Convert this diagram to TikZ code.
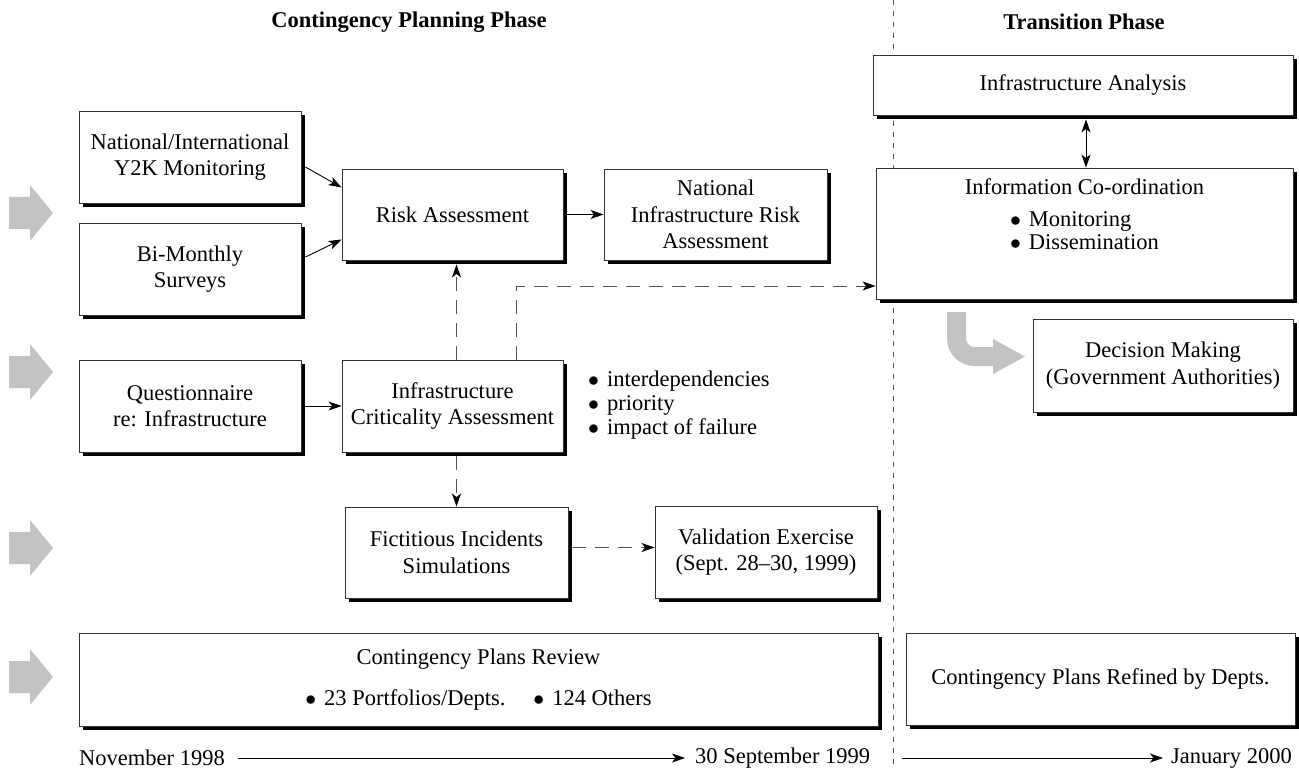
\documentclass[tikz,border=0pt]{standalone}
\usepackage{fontspec}
\setmainfont{Liberation Serif}
\usepackage{graphicx}
\usepackage{xcolor}
\definecolor{arrowgray}{RGB}{195,195,195}
\definecolor{linegray}{RGB}{85,85,85}
\usetikzlibrary{arrows.meta,shadows,calc}
\newcommand{\pt}{\scalebox{1.05}{$\bullet$}\hspace{8pt}}
\tikzset{
  phasebox/.style={
    draw=black!80,
    line width=0.9pt,
    fill=white,
    inner sep=0pt,
    align=center,
    drop shadow={shadow xshift=4pt, shadow yshift=-4pt, fill=black, opacity=1}
  },
  stdbox/.style={
    phasebox,
    minimum width=222pt,
    minimum height=92pt
  },
  flow/.style={
    line width=0.9pt,
    -{Stealth[length=13pt, width=9pt, inset=3.5pt]}
  },
  dashflow/.style={
    flow,
    draw=linegray,
    -{Stealth[length=13pt, width=9pt, inset=3.5pt, color=black]},
    dash pattern=on 14pt off 9pt
  },
  twoway/.style={
    line width=0.9pt,
    {Stealth[length=13pt, width=9pt, inset=3.5pt]}-{Stealth[length=13pt, width=9pt, inset=3.5pt]}
  },
  divider/.style={
    draw=linegray,
    line width=0.8pt,
    dash pattern=on 5pt off 6pt
  },
  blockarrow/.style={
    fill=arrowgray
  },
  turnarrow/.style={
    draw=arrowgray,
    line width=19pt,
    rounded corners=18pt
  },
  heading/.style={
    font=\fontsize{22.5}{26.5}\selectfont\bfseries
  },
}

\begin{document}
\begin{tikzpicture}[x=1pt, y=-1pt, font=\fontsize{22.5}{26.5}\selectfont]

  \useasboundingbox (0,0) rectangle (1299,770);

  \def\XDIV{893}

  % phase divider
  \draw[divider] (\XDIV,0) -- (\XDIV,770);

  % headings
  \node[heading] (planhead) at (409,22) {Contingency Planning Phase};
  \node[heading] (transhead) at (1084,22) {Transition Phase};

  % gray row arrows
  \foreach \y in {213,372,548,677}
    \fill[blockarrow] (9,\y-16) -- (30,\y-16) -- (30,\y-28) -- (53,\y)
      -- (30,\y+28) -- (30,\y+16) -- (9,\y+16) -- cycle;

  % planning boxes
  \node[stdbox] (natmon) at (190,157) {National/International\\Y2K Monitoring};
  \node[stdbox] (survey) at (190,269) {Bi-Monthly\\Surveys};
  \node[stdbox, minimum width=221pt, minimum height=91pt] (risk) at (452.5,214.5) {Risk Assessment};
  \node[stdbox, minimum width=223pt, minimum height=91pt] (nira) at (715.5,214.5) {National\\Infrastructure Risk\\Assessment};
  \node[stdbox] (quest) at (190,406) {Questionnaire\\re: Infrastructure};
  \node[stdbox, minimum width=221pt] (ica) at (452.5,406) {Infrastructure\\Criticality Assessment};
  \node[anchor=west, inner sep=0pt, align=left, font=\fontsize{22.5}{24}\selectfont] (criteria) at (588,405)
    {\pt interdependencies\\\pt priority\\\pt impact of failure};
  \node[stdbox, minimum width=223pt, minimum height=91pt] (fict) at (456.5,552.5) {Fictitious Incidents\\Simulations};
  \node[stdbox] (valid) at (766,552) {Validation Exercise\\(Sept. 28--30, 1999)};
  \node[phasebox, minimum width=799pt, minimum height=93pt] (review) at (478.5,679.5)
    {Contingency Plans Review\\[14pt]\pt 23 Portfolios/Depts.\hspace{28pt}\pt 124 Others};

  % transition boxes
  \node[phasebox, minimum width=420pt, minimum height=60pt] (infan) at (1083,85) {Infrastructure Analysis};
  \node[phasebox, minimum width=417pt, minimum height=131pt] (infoco) at (1084.5,233.5) {};
  \node[anchor=north, inner sep=0pt, align=center] (infotext) at ([yshift=-11pt]infoco.north)
    {Information Co-ordination\\[5pt]\begin{tabular}[t]{@{}l@{}}\pt Monitoring\\[-3.5pt]\pt Dissemination\end{tabular}};
  \node[phasebox, minimum width=260pt, minimum height=93pt] (decide) at (1163,365.5) {Decision Making\\(Government Authorities)};
  \node[phasebox, minimum width=389pt, minimum height=92pt] (refined) at (1100.5,679) {Contingency Plans Refined by Depts.};

  % turn arrow to decision making
  \draw[turnarrow] (956.5,312) -- (956.5,356.5) -- (995,356.5);
  \fill[blockarrow] (993,339) -- (1025,356.5) -- (993,374) -- cycle;

  % connectors
  \draw[flow] ([xshift=4pt, yshift=-10pt]natmon.east) -- ([yshift=27pt]risk.west);
  \draw[flow] ([xshift=4pt, yshift=12pt]survey.east) -- ([yshift=-25pt]risk.west);
  \draw[flow] ([xshift=4pt]risk.east) -- (nira.west);
  \draw[flow] ([xshift=4pt]quest.east) -- (ica.west);
  \draw[dashflow] (ica.north -| fict.north) -- ([yshift=-4pt]risk.south -| fict.north);
  \draw[dashflow] ([xshift=63.5pt]ica.north) |- ([yshift=-52.5pt]infoco.west);
  \draw[dashflow] ([yshift=-4pt]ica.south -| fict.north) -- (fict.north);
  \draw[dashflow] ([xshift=4pt, yshift=5pt]fict.east) -- ([yshift=5pt]fict.east -| valid.west);
  \draw[twoway] ([xshift=3pt, yshift=-4pt]infan.south) -- ([xshift=3pt]infan.south |- infoco.north);

  % time line
  \node[anchor=west, inner sep=0pt] (nov) at (79,758) {November 1998};
  \node[anchor=west, inner sep=0pt] (sep) at (695,758) {30 September 1999};
  \node[anchor=east, inner sep=0pt] (jan) at (1292,758) {January 2000};
  \coordinate (trans) at (902,758);
  \draw[flow] ([xshift=13pt]nov.east) -- ([xshift=-10pt]sep.west);
  \draw[flow] (trans) -- ([xshift=-8pt]jan.west);

\end{tikzpicture}
\end{document}
